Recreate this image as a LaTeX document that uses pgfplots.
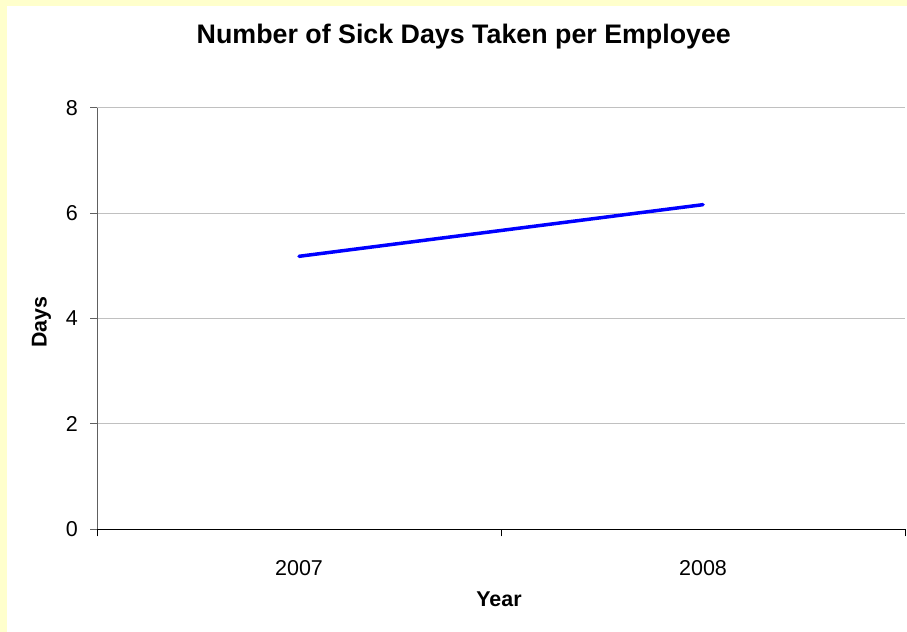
\documentclass[border=0pt]{standalone}
\usepackage{pgfplots}
\pgfplotsset{compat=1.18}
\usepackage{fontspec}
\setmainfont{Liberation Sans}

\definecolor{frameyellow}{HTML}{FFFFCC}
\definecolor{gridgray}{HTML}{C0C0C0}
\definecolor{axisgray}{HTML}{606060}

% Sick days per employee, one value per year
\pgfplotstableread{
idx days
0   5.18
1   6.16
}\sickdays

\begin{document}
\begin{tikzpicture}[x=1bp,y=1bp]
  % page frame: pale yellow border on the left and top
  \useasboundingbox (0,0) rectangle (907,632);
  \fill[frameyellow] (0,0) rectangle (907,632);
  \fill[white] (7,0) rectangle (907,626);

  \begin{axis}[
    at={(97bp,102.7bp)}, anchor=south west,
    scale only axis,
    width=808bp, height=421.6bp,
    xmin=-0.5, xmax=1.5,
    ymin=0, ymax=8,
    % category boundaries carry the ticks, names sit between them
    xtick={-0.5,0.5,1.5},
    x tick label as interval,
    xticklabels={2007,2008},
    ytick={0,2,4,6,8},
    x tick style={black, line width=0.8bp},
    y tick style={axisgray, line width=0.8bp},
    major tick length=7bp,
    tick align=outside,
    axis x line*=bottom,
    axis y line*=left,
    x axis line style={-, black, line width=1bp},
    y axis line style={-, axisgray, line width=1bp},
    ymajorgrids,
    grid style={gridgray, line width=0.8bp},
    /pgf/number format/assume math mode=true,
    tick label style={font=\fontsize{21.5bp}{24bp}\selectfont},
    yticklabel style={anchor=east, inner sep=0pt, xshift=-12bp},
    xticklabel style={anchor=base, inner sep=0pt, yshift=-39bp},
    title={Number of Sick Days Taken per Employee},
    title style={font=\bfseries\fontsize{26.8bp}{30bp}\selectfont,
      at={(axis description cs:0.454,1.1385)}, anchor=base, inner sep=0pt},
    xlabel={Year},
    xlabel style={font=\bfseries\fontsize{21.4bp}{24bp}\selectfont,
      at={(axis description cs:0.4975,-0.1836)}, anchor=base, inner sep=0pt},
    ylabel={Days},
    ylabel style={font=\bfseries\fontsize{21.4bp}{24bp}\selectfont,
      at={(axis description cs:-0.0623,0.4917)}, anchor=base, rotate=0, inner sep=0pt},
    clip=false,
  ]
    \addplot[blue, line width=3.5bp, line cap=round] table[x=idx, y=days] {\sickdays};
  \end{axis}
\end{tikzpicture}
\end{document}
